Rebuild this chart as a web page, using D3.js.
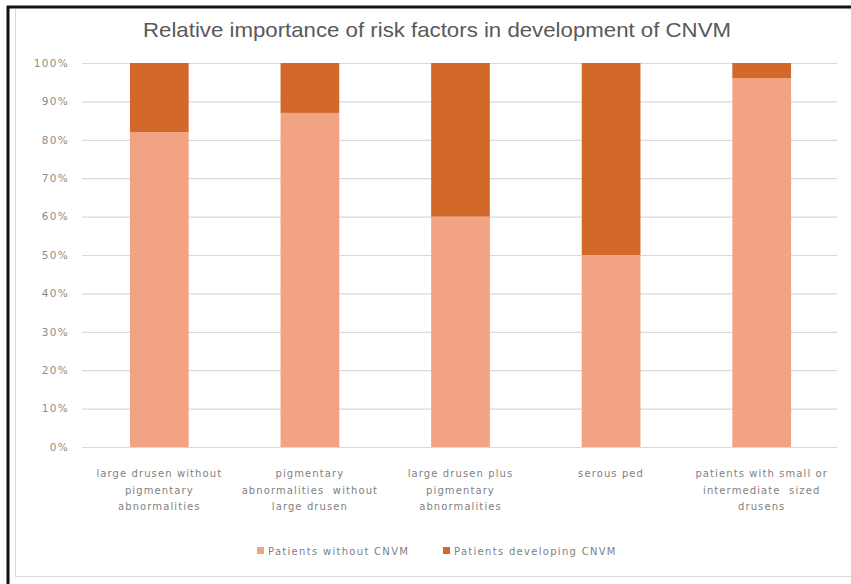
<!DOCTYPE html>
<html>
<head>
<meta charset="utf-8">
<script src="https://cdn.jsdelivr.net/npm/d3@7"></script>
<style>
  html, body { margin: 0; padding: 0; background: #fff; }
  svg { display: block; }
</style>
</head>
<body>
<svg id="chart" width="851" height="584"></svg>
<script>
// Risk factor groups along the x axis
const categories = [
  ["large drusen without", "pigmentary", "abnormalities"],
  ["pigmentary", "abnormalities  without", "large drusen"],
  ["large drusen plus", "pigmentary", "abnormalities"],
  ["serous ped"],
  ["patients with small or", "intermediate  sized", "drusens"]
];
const seriesNames = ["Patients without CNVM", "Patients developing CNVM"];
// Share of patients in each group (percent)
const withoutCNVM = [82, 87, 60, 50, 96];
const developingCNVM = [18, 13, 40, 50, 4];
const yTicks = [0, 10, 20, 30, 40, 50, 60, 70, 80, 90, 100];
const titleText = "Relative importance of risk factors in development of CNVM";

const colors = ["#F1A384", "#D2692A"];
const svg = d3.select("#chart");
const W = 851, H = 584;
const smallFont = "'DejaVu Sans', sans-serif";

// Frame: dark outer border on top/left, light inner border
svg.append("rect").attr("x", 0).attr("y", 0).attr("width", W).attr("height", H).attr("fill", "#fff");
svg.append("line").attr("x1", 7).attr("x2", W).attr("y1", 7).attr("y2", 7).attr("stroke", "#111").attr("stroke-width", 3);
svg.append("line").attr("x1", 8).attr("x2", 8).attr("y1", 6).attr("y2", H).attr("stroke", "#111").attr("stroke-width", 3);
svg.append("line").attr("x1", 15.5).attr("x2", 15.5).attr("y1", 9).attr("y2", 577).attr("stroke", "#d9d9d9").attr("stroke-width", 1);
svg.append("line").attr("x1", 15).attr("x2", W).attr("y1", 576.5).attr("y2", 576.5).attr("stroke", "#d9d9d9").attr("stroke-width", 1);

const plot = { left: 84, right: 837, top: 63, bottom: 447 };
const x = d3.scaleBand().domain(d3.range(categories.length)).range([plot.left, plot.right]).paddingInner(0.61).paddingOuter(0.305);
const y = d3.scaleLinear().domain([0, 100]).range([plot.bottom, plot.top]);

// Title
svg.append("text")
  .attr("x", 437).attr("y", 37)
  .attr("text-anchor", "middle")
  .attr("font-family", "'Liberation Sans', sans-serif")
  .attr("font-size", 21)
  .attr("textLength", 588)
  .attr("lengthAdjust", "spacingAndGlyphs")
  .attr("fill", "#595959")
  .text(titleText);

// Gridlines + y tick labels
const yAxis = d3.axisLeft(y).tickValues(yTicks).tickFormat(d => d + "%").tickSize(-(plot.right - plot.left + 2)).tickPadding(13);
const gy = svg.append("g").attr("transform", `translate(${plot.left - 2},0)`).call(yAxis);
gy.select(".domain").remove();
gy.selectAll(".tick line").attr("stroke", "#d9d9d9").attr("stroke-width", 1.2);
gy.selectAll(".tick text")
  .attr("font-family", smallFont)
  .attr("font-size", 10.5)
  .attr("letter-spacing", 1.3)
  .attr("fill", "#8c8c8c");

// Stacked bars
const stackData = categories.map((c, i) => ({ i, a: withoutCNVM[i], b: developingCNVM[i] }));
const stack = d3.stack().keys(["a", "b"])(stackData);
svg.append("g").selectAll("g").data(stack).join("g")
  .attr("fill", (d, k) => colors[k])
  .selectAll("rect").data(d => d).join("rect")
  .attr("x", d => x(d.data.i))
  .attr("width", x.bandwidth())
  .attr("y", d => y(d[1]))
  .attr("height", d => y(d[0]) - y(d[1]));

// Baseline
svg.append("line").attr("x1", plot.left - 2).attr("x2", plot.right).attr("y1", y(0) + 0.5).attr("y2", y(0) + 0.5)
  .attr("stroke", "#d9d9d9").attr("stroke-width", 1.2);

// Category labels
const catG = svg.append("g");
categories.forEach((lines, i) => {
  const cx = x(i) + x.bandwidth() / 2;
  const t = catG.append("text")
    .attr("x", cx)
    .attr("y", 477)
    .attr("text-anchor", "middle")
    .attr("font-family", smallFont)
    .attr("font-size", 10)
    .attr("letter-spacing", 1.1)
    .attr("fill", "#7f7f7f")
    .attr("xml:space", "preserve");
  lines.forEach((ln, j) => {
    t.append("tspan").attr("x", cx).attr("dy", j === 0 ? 0 : 16.5).text(ln);
  });
});

// Legend
const legendItems = [
  { name: seriesNames[0], color: colors[0], x: 257 },
  { name: seriesNames[1], color: colors[1], x: 443 }
];
const lg = svg.append("g");
legendItems.forEach(it => {
  lg.append("rect").attr("x", it.x).attr("y", 547).attr("width", 7).attr("height", 7).attr("fill", it.color);
  lg.append("text").attr("x", it.x + 11).attr("y", 555)
    .attr("font-family", smallFont)
    .attr("font-size", 10)
    .attr("letter-spacing", 1.3)
    .attr("fill", "#7f7f7f")
    .text(it.name);
});
</script>
</body>
</html>
